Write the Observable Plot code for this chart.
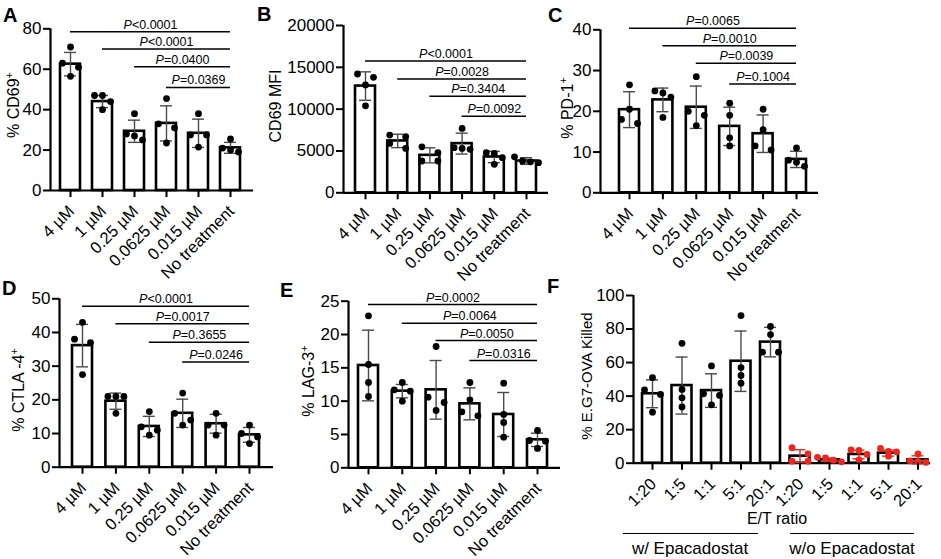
<!DOCTYPE html>
<html><head><meta charset="utf-8">
<script src="https://cdn.jsdelivr.net/npm/d3@7"></script>
<script src="https://cdn.jsdelivr.net/npm/@observablehq/plot@0.6"></script>
<style>
body{margin:0;background:#fff;}
#fig{position:relative;width:941px;height:559px;overflow:hidden;font-family:"Liberation Sans",Arial,sans-serif;color:#000;background:#fff}
.letter{position:absolute;font-weight:bold;font-size:20px;line-height:1}
.ylab{position:absolute;font-size:16px;line-height:1;white-space:nowrap;transform:translate(-50%,-50%) rotate(-90deg)}
.ylab sup{font-size:0.68em;vertical-align:0.55em;line-height:0}
.txt{position:absolute;line-height:1;white-space:nowrap;transform:translate(-50%,-50%)}
.panel{position:absolute}
</style></head>
<body><div id="fig"></div>
<script>
// ---------------- data ----------------
const concentrations = ["4 µM","1 µM","0.25 µM","0.0625 µM","0.015 µM","No treatment"];
const ratios = ["1:20","1:5","1:1","5:1","20:1"];

// A: % CD69+
const cd69Mean = [62.5, 44, 29.3, 33.2, 28.3, 21.1];
const cd69SD = [5.8, 3, 5.5, 8.7, 7, 2.7];
const cd69Points = [[71,63,61,56.5],[47,47,44,40],[38,28,27,25],[45.5,33,31,23.5],[38,27.5,27.5,21.5],[25.5,21,20,19]];
const cd69P = ["P<0.0001","P<0.0001","P=0.0400","P=0.0369"];
const cd69PHeight = [78.6, 70, 61.2, 51];

// B: CD69 MFI
const mfiMean = [12760, 6200, 4480, 5880, 4280, 3800];
const mfiSD = [1700, 800, 900, 1250, 680, 400];
const mfiPoints = [[14200,13800,12900,10400],[6900,6700,5900,5300],[5500,4800,3800,3800],[7700,5400,5300,5200],[4800,4700,4200,3400],[4300,3800,3700,3600]];
const mfiP = ["P<0.0001","P=0.0028","P=0.3404","P=0.0092"];
const mfiPHeight = [15760, 13605, 11533, 9138];

// C: % PD-1+
const pd1Mean = [20.4, 22.8, 21.0, 16.3, 14.5, 8.2];
const pd1SD = [4.4, 2.9, 5.2, 4.7, 4.6, 2.0];
const pd1Points = [[26.5,20.5,18,17],[25,24.5,23.5,18.5],[28.5,20,19,16.5],[22,19,13.5,11.5],[20.5,15.5,11.5,10.5],[11,8,7.5,6.5]];
const pd1P = ["P=0.0065","P=0.0010","P=0.0039","P=0.1004"];
const pd1PHeight = [40.4, 36.1, 31.8, 26.7];

// D: % CTLA-4+
const ctla4Mean = [36.1, 19.6, 12.1, 16.0, 12.9, 9.6];
const ctla4SD = [6.3, 2.4, 3.0, 4.2, 2.8, 2.2];
const ctla4Points = [[43,38,37,27.5],[21,21,21,16],[16.5,12,11,9.5],[22,16,14,12.5],[16,12.5,12.5,9.5],[12.5,10,9,7]];
const ctla4P = ["P<0.0001","P=0.0017","P=0.3655","P=0.0246"];
const ctla4PHeight = [47.8, 42.6, 37.1, 31.2];

// E: % LAG-3+
const lag3Mean = [15.35, 11.5, 11.7, 9.6, 8.0, 4.2];
const lag3SD = [5.3, 1.0, 4.4, 2.4, 3.3, 1.0];
const lag3Points = [[22.8,15.5,12.8,10.7],[12.8,11.7,11.5,10],[18.2,10.6,9.8,8.6],[12.8,10.2,8.4,7.8],[12.7,8,6.8,4.6],[5.6,4.1,4.0,2.9]];
const lag3P = ["P=0.0002","P=0.0064","P=0.0050","P=0.0316"];
const lag3PHeight = [24.5, 21.7, 19.1, 16.1];

// F: % E.G7-OVA killed
const killWithMean = [41.4, 46.3, 43.3, 60.8, 72.2];
const killWithSD = [8.3, 17, 10, 18, 8.8];
const killWithPoints = [[51,43.7,41,30.4],[71.5,44,39,33.5],[58,41.4,40.4,34.8],[88,57,52.3,47.7],[81.5,76.7,66.2,66.2]];
const killWithoutMean = [4.2, 2.0, 5.2, 6.0, 2.0];
const killWithoutSD = [3.8, 1.0, 2.6, 1.8, 2.4];
const killWithoutPoints = [[9.2,5.6,1.2,1.2],[3.5,3.2,1.8,0.8],[8,7.6,5.2,2],[8.8,7,6.8,4.2],[5.6,1.4,1,0.5]];

// ---------------- layout / drawing ----------------
const BLACK = "#000", RED = "#f0261c", ERR = "#4a4a4a";
const fig = document.getElementById("fig");
function addDiv(cls, html, css){const d=document.createElement("div");d.className=cls;d.innerHTML=html;Object.assign(d.style,css);fig.appendChild(d);return d;}

function swarm(vals, pxY, spacing, r){
  const sorted=[...vals].sort((a,b)=>b-a);
  const rows=[];
  for(const v of sorted){const row=rows[rows.length-1]; if(row && (row[0]-v)*pxY < 2*r) row.push(v); else rows.push([v]);}
  const out=[];
  for(const row of rows){
    const n=row.length, d = n===2 ? 16 : 8;
    row.forEach((v,k)=>out.push({v, off:(k-(n-1)/2)*d/spacing}));
  }
  return out;
}

function panel(cfg){
  const {top, axisX, axisRight, y0, yTop, yMax, yStep, first, spacing, labels, groups, sig} = cfg;
  const mL=56, mR=8, mB=100, mT=yTop-top;
  const plotW=axisRight-axisX, plotH=y0-yTop;
  const width=mL+plotW+mR, height=mT+plotH+mB;
  const xMin=(axisX-first)/spacing, xMax=(axisRight-first)/spacing;
  const pxY=plotH/yMax, r=3.4;
  const half=10/spacing, cap=6/spacing;
  const dots=[];
  groups.forEach(g=>swarm(g.pts,pxY,spacing,r).forEach(p=>dots.push({x:g.i+p.off,v:p.v,color:g.color})));
  const marks=[
    Plot.rect(groups,{x1:d=>d.i-half,x2:d=>d.i+half,y1:()=>0,y2:"mean",fill:"white",stroke:BLACK,strokeWidth:2.6}),
    Plot.ruleY([0],{stroke:BLACK,strokeWidth:2.2}),
    Plot.ruleX([xMin],{stroke:BLACK,strokeWidth:2.2}),
    Plot.ruleX(groups,{x:"i",y1:d=>d.mean-d.sd,y2:d=>d.mean+d.sd,stroke:d=>d.err,strokeWidth:1.4}),
    Plot.ruleY(groups,{y:d=>d.mean+d.sd,x1:d=>d.i-cap,x2:d=>d.i+cap,stroke:d=>d.err,strokeWidth:1.4}),
    Plot.ruleY(groups,{y:d=>d.mean-d.sd,x1:d=>d.i-cap,x2:d=>d.i+cap,stroke:d=>d.err,strokeWidth:1.4}),
    Plot.dot(dots,{x:"x",y:"v",r,fill:d=>d.color,stroke:null}),
    Plot.axisY({ticks:d3.range(0,yMax+yStep/2,yStep),tickSize:7,tickPadding:2,strokeWidth:2,tickFormat:d=>String(d),label:null,fontSize:17}),
    Plot.axisX({ticks:d3.range(groups.length),tickFormat:i=>labels[i],tickRotate:-45,tickSize:7,tickPadding:1,strokeWidth:2,label:null,fontSize:16.5})
  ];
  if(sig){
    marks.push(Plot.ruleY(sig,{y:"h",x1:"from",x2:"to",stroke:BLACK,strokeWidth:1.5}));
    marks.push(Plot.text(sig,{x:d=>(d.from+d.to)/2,y:"h",text:"label",lineAnchor:"bottom",dy:-3,fontSize:12.5,fill:BLACK}));
  }
  const svg=Plot.plot({
    width,height,marginLeft:mL,marginRight:mR,marginTop:mT,marginBottom:mB,
    x:{type:"linear",domain:[xMin,xMax]},
    y:{type:"linear",domain:[0,yMax]},
    style:{background:"transparent",fontFamily:'"Liberation Sans",Arial,sans-serif',fontSize:"15px",color:"#000",overflow:"visible",maxWidth:"none"},
    marks
  });
  // enforce tick-label sizes and nudge rotated category labels downward
  svg.querySelectorAll("g[aria-label]").forEach(g=>{
    const lab=g.getAttribute("aria-label");
    if(lab==="x-axis tick label"){
      g.setAttribute("transform",((g.getAttribute("transform")||"")+" translate(1,10)").trim());
      g.querySelectorAll("text").forEach(t=>t.style.setProperty("font-size","16.5px","important"));
    } else if(lab==="y-axis tick label"){
      g.querySelectorAll("text").forEach(t=>t.style.setProperty("font-size","17px","important"));
    }
  });
  svg.querySelectorAll("text").forEach(t=>{
    const s=t.textContent;
    if(/^P[<=]/.test(s)){
      t.textContent="";
      const ns="http://www.w3.org/2000/svg";
      const a=document.createElementNS(ns,"tspan");a.setAttribute("font-style","italic");a.textContent="P";
      const b=document.createElementNS(ns,"tspan");b.textContent=s.slice(1);
      t.appendChild(a);t.appendChild(b);
    }
  });
  const wrap=document.createElement("div");
  wrap.className="panel";
  Object.assign(wrap.style,{left:(axisX-mL)+"px",top:top+"px",width:width+"px",height:height+"px"});
  wrap.appendChild(svg);
  fig.appendChild(wrap);
}

function groupsOf(mean,sd,pts,color,err,offset=0){
  return mean.map((m,k)=>({i:k+offset,mean:m,sd:sd[k],pts:pts[k],color,err}));
}
function sigOf(labels,heights,last){
  return labels.map((l,k)=>({from:k,to:last,h:heights[k],label:l}));
}

panel({top:0,axisX:50,axisRight:253,y0:190,yTop:28.3,yMax:80,yStep:20,first:70,spacing:32,labels:concentrations,
  groups:groupsOf(cd69Mean,cd69SD,cd69Points,BLACK,ERR),sig:sigOf(cd69P,cd69PHeight,5)});
panel({top:0,axisX:343,axisRight:548,y0:192.3,yTop:25,yMax:20000,yStep:5000,first:365,spacing:32.2,labels:concentrations,
  groups:groupsOf(mfiMean,mfiSD,mfiPoints,BLACK,ERR),sig:sigOf(mfiP,mfiPHeight,5)});
panel({top:0,axisX:600,axisRight:818,y0:192.3,yTop:29.3,yMax:40,yStep:10,first:629,spacing:33.4,labels:concentrations,
  groups:groupsOf(pd1Mean,pd1SD,pd1Points,BLACK,ERR),sig:sigOf(pd1P,pd1PHeight,5)});
panel({top:270,axisX:59,axisRight:273,y0:466.7,yTop:298.3,yMax:50,yStep:10,first:82,spacing:33.4,labels:concentrations,
  groups:groupsOf(ctla4Mean,ctla4SD,ctla4Points,BLACK,ERR),sig:sigOf(ctla4P,ctla4PHeight,5)});
panel({top:270,axisX:348,axisRight:560,y0:467.3,yTop:300.7,yMax:25,yStep:5,first:368,spacing:33.8,labels:concentrations,
  groups:groupsOf(lag3Mean,lag3SD,lag3Points,BLACK,ERR),sig:sigOf(lag3P,lag3PHeight,5)});
panel({top:270,axisX:633,axisRight:930,y0:462.7,yTop:295,yMax:100,yStep:20,first:652,spacing:29.5,labels:ratios.concat(ratios),
  groups:groupsOf(killWithMean,killWithSD,killWithPoints,BLACK,ERR).concat(groupsOf(killWithoutMean,killWithoutSD,killWithoutPoints,RED,RED,5)),sig:null});

// panel letters
[["A",3,4.5],["B",257,4],["C",548,4.5],["D",2,277.5],["E",280,279.5],["F",547,275.5]].forEach(([t,x,y])=>addDiv("letter",t,{left:x+"px",top:y+"px"}));
// y-axis titles
[["% CD69<sup>+</sup>",13.5,105,16],["CD69 MFI",276,106,16],["% PD-1<sup>+</sup>",568,108,16],
 ["% CTLA -4<sup>+</sup>",19,390,16],["% LAG-3<sup>+</sup>",309,381,16],["% E.G7-OVA Killed",586,376,15]]
 .forEach(([t,x,y,fs])=>addDiv("ylab",t,{left:x+"px",top:y+"px",fontSize:fs+"px"}));
// F annotations
addDiv("txt","E/T ratio",{left:"777px",top:"519px",fontSize:"16px"});
addDiv("txt","w/ Epacadostat",{left:"690px",top:"548px",fontSize:"17px"});
addDiv("txt","w/o Epacadostat",{left:"852px",top:"548px",fontSize:"17px"});
addDiv("","",{position:"absolute",left:"623px",top:"532.5px",width:"135px",height:"1.5px",background:"#000"});
addDiv("","",{position:"absolute",left:"790px",top:"532.5px",width:"124px",height:"1.5px",background:"#000"});
</script>
</body></html>
